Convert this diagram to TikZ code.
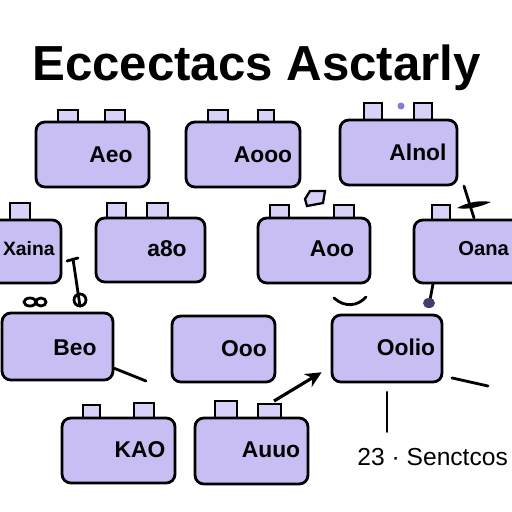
\documentclass[tikz,border=0pt]{standalone}
\usepackage{fontspec}
\setmainfont{Liberation Sans}
\usetikzlibrary{arrows.meta,positioning}
\definecolor{lav}{HTML}{C8BEF4}
\definecolor{lavlt}{HTML}{D9D2F8}
\definecolor{lavdk}{HTML}{8C78D8}

\begin{document}
\begin{tikzpicture}[x=0.02cm,y=-0.02cm,
  cell/.style={draw,line width=1.6pt,rounded corners=5pt,fill=lav,inner sep=0pt},
  term/.style={draw,line width=1.3pt,fill=lavlt},
  lbl/.style={font=\bfseries\fontsize{13}{15}\selectfont},
  wire/.style={line width=1.6pt,line cap=round},
  arr/.style={-{Stealth[length=3.2mm,width=3mm]},line width=1.8pt}]
  \useasboundingbox (0,0) rectangle (512,512);
  \clip (0,0) rectangle (512,512);
  \fill[white] (0,0) rectangle (512,512);
  % title
  \node[font=\bfseries\fontsize{28}{32}\selectfont,anchor=base] (title) at (256.5,80) {Eccectacs Asctarly};
  % terminals (drawn first, the cells cover their feet)
  \draw[term] (58,110) rectangle (78,125);   \draw[term] (105,110) rectangle (125,125);
  \draw[term] (208,110) rectangle (228,125); \draw[term] (258,110) rectangle (274,125);
  \draw[term] (364,103) rectangle (382,123); \draw[term] (414,103) rectangle (432,123);
  \draw[term] (10,203) rectangle (30,223);
  \draw[term] (107,203) rectangle (126,221); \draw[term] (147,203) rectangle (168,221);
  \draw[term] (270,205) rectangle (289,221); \draw[term] (334,205) rectangle (354,221);
  \draw[term] (432,205) rectangle (450,223);
  \draw[term] (83,405) rectangle (100,421);  \draw[term] (134,403) rectangle (154,421);
  \draw[term] (215,401) rectangle (237,421); \draw[term] (258,404) rectangle (281,421);
  % row 1
  \node[cell,minimum width=2.26cm,minimum height=1.30cm] (a) at (92.5,154.5) {};
  \node[cell,minimum width=2.28cm,minimum height=1.30cm] (b) at (243,154.5) {};
  \node[cell,minimum width=2.34cm,minimum height=1.30cm] (c) at (398.5,152.5) {};
  \node[lbl] (la) at (111,155) {Aeo};
  \node[lbl] (lb) at (263,155) {Aooo};
  \node[lbl] (lc) at (418,152) {Alnol};
  % row 2
  \node[cell,minimum width=1.62cm,minimum height=1.26cm] (d) at (20.5,251.5) {};
  \node[cell,minimum width=2.18cm,minimum height=1.28cm] (e) at (150.5,250) {};
  \node[cell,minimum width=2.24cm,minimum height=1.30cm] (f) at (314,250.5) {};
  \node[cell,minimum width=2.32cm,minimum height=1.26cm] (g) at (472,251.5) {};
  \node[lbl,font=\bfseries\fontsize{11}{13}\selectfont,anchor=west,inner sep=1pt] (ld) at (1,249) {Xaina};
  \node[lbl] (le) at (167,249) {a8o};
  \node[lbl,font=\bfseries\fontsize{11.5}{13}\selectfont,anchor=east,inner sep=1pt] (lg) at (511,249) {Oana};
  \node[lbl] (lf) at (332,249) {Aoo};
  % row 3
  \node[cell,minimum width=2.22cm,minimum height=1.34cm] (h) at (57.5,346.5) {};
  \node[cell,minimum width=2.06cm,minimum height=1.32cm] (i) at (223.5,349) {};
  \node[cell,minimum width=2.20cm,minimum height=1.34cm] (j) at (387,348.5) {};
  \node[lbl] (lh) at (75,348) {Beo};
  \node[lbl] (li) at (244,349) {Ooo};
  \node[lbl] (lj) at (406,347) {Oolio};
  % row 4
  \node[cell,minimum width=2.26cm,minimum height=1.30cm] (k) at (118.5,450.5) {};
  \node[cell,minimum width=2.26cm,minimum height=1.32cm] (l) at (251.5,451) {};
  \node[lbl] (lk) at (140,450) {KAO};
  \node[lbl] (ll) at (271,450) {Auuo};
  % note
  \node[font=\fontsize{14}{17}\selectfont,anchor=base east,inner sep=1pt] (note) at (510,465) {23 · Senctcos};
  % wires
  \coordinate (h-end) at (146,381);
  \coordinate (j-end) at (488,386);
  \coordinate (l-tip) at (274,401);
  \draw[wire] (h.-21) -- (h-end);
  \draw[wire,shorten <=5pt] (j.-26) -- (j-end);
  \draw[wire,shorten <=5pt,shorten >=8pt] (j.south) -- (j.south |- note.north);
  \draw[arr,shorten >=6pt] (l-tip) -- (j.198);
  % odd bits
  \draw[wire] (30,302) ellipse (6 and 4); \draw[wire] (41,302) ellipse (5 and 4);
  \draw[wire] (67,261) -- (78,258); \draw[wire] (73,259) -- (80,306);
  \draw[wire] (80,300) circle (6);
  \draw[wire] (334,298) .. controls (345,308) and (358,306) .. (366,297);
  \draw[line width=1.3pt,fill=lavlt] (310,191) -- (325,191) -- (323,203) -- (307,206) -- (305,199) -- cycle;
  \draw[wire] (464,186) -- (474,218);
  \fill (457,208) .. controls (468,202) and (480,200) .. (491,202) .. controls (480,207) and (468,210) .. (457,208);
  \draw[wire] (433,284) -- (430,300);
  \fill[lavdk!50!black] (429,303) ellipse (6 and 5);
  \fill[lavdk] (401,106) circle (3.5);
\end{tikzpicture}
\end{document}
